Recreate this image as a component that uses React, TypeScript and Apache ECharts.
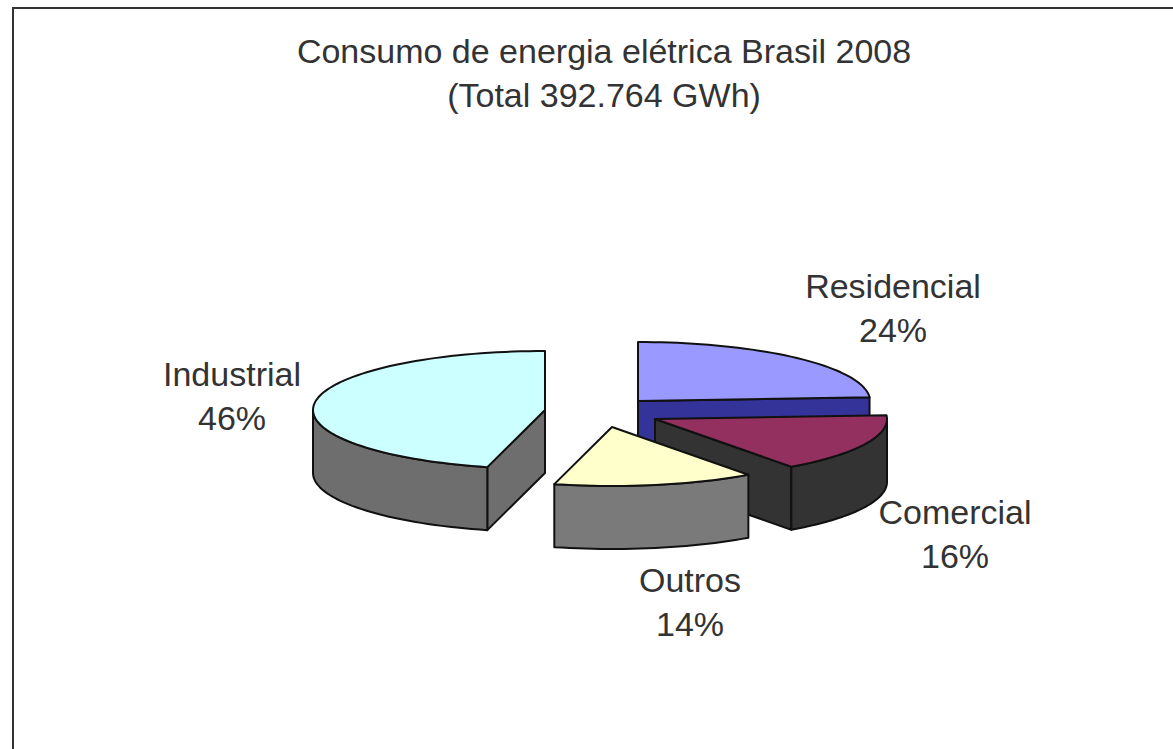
import React, { useEffect, useRef } from "react";
import * as echarts from "echarts";

const categories = ["Residencial", "Comercial", "Outros", "Industrial"];
const shares = [24, 16, 14, 46];
const titleLines = ["Consumo de energia elétrica Brasil 2008", "(Total 392.764 GWh)"];

const topColors = ["#9999FF", "#943060", "#FFFFCC", "#CCFFFF"];
const sideColors = ["#333399", "#333333", "#7A7A7A", "#6E6E6E"];
const centers = [[638, 401], [655, 419], [612, 427], [545, 410]];
const labelAnchors = [[893, 286], [955, 512], [690, 580], [232, 374]];

const RX = 232;
const RY = 59;
const DEPTH = 63;
const LINE_GAP = 44;
const FONT = "'Liberation Sans', Arial, sans-serif";
const TEXT_COLOR = "#333333";
const FONT_SIZE = 34;

const total = shares.reduce((a, b) => a + b, 0);

function arcPoint(c: number[], deg: number, dy = 0): number[] {
  const r = (deg * Math.PI) / 180;
  return [c[0] + RX * Math.sin(r), c[1] - RY * Math.cos(r) + dy];
}

function arcPoints(c: number[], from: number, to: number, dy = 0): number[][] {
  const pts: number[][] = [];
  const n = Math.max(2, Math.ceil(Math.abs(to - from) / 2));
  for (let i = 0; i <= n; i++) pts.push(arcPoint(c, from + ((to - from) * i) / n, dy));
  return pts;
}

function renderItem(params: any, api: any) {
  const i = params.dataIndex;
  let before = 0;
  for (let k = 0; k < i; k++) before += shares[k];
  const a0 = (before / total) * 360;
  const a1 = a0 + (api.value(0) / total) * 360;
  const c = centers[i];
  const stroke = { stroke: "#111111", lineWidth: 2, lineJoin: "round" };
  const side = { ...stroke, fill: sideColors[i] };
  const children: any[] = [];

  const cutFace = (deg: number) => {
    const p = arcPoint(c, deg);
    return {
      type: "polygon",
      shape: { points: [c, p, [p[0], p[1] + DEPTH], [c[0], c[1] + DEPTH]] },
      style: side,
    };
  };
  const startVisible = Math.cos(((a0 - 90) * Math.PI) / 180) < -1e-6;
  const endVisible = Math.cos(((a1 + 90) * Math.PI) / 180) < -1e-6;
  if (startVisible) children.push(cutFace(a0));
  if (endVisible) children.push(cutFace(a1));

  const w0 = Math.max(a0, 90);
  const w1 = Math.min(a1, 270);
  if (w1 > w0) {
    const upper = arcPoints(c, w0, w1);
    const lower = arcPoints(c, w0, w1, DEPTH).reverse();
    children.push({ type: "polygon", shape: { points: [...upper, ...lower] }, style: side });
  }

  children.push({
    type: "polygon",
    shape: { points: [c, ...arcPoints(c, a0, a1)] },
    style: { ...stroke, fill: topColors[i] },
  });

  const anchor = labelAnchors[i];
  children.push({
    type: "text",
    x: anchor[0],
    y: anchor[1],
    style: {
      text: categories[i],
      font: `${FONT_SIZE}px ${FONT}`,
      fill: TEXT_COLOR,
      textAlign: "center",
      textVerticalAlign: "middle",
    },
  });
  children.push({
    type: "text",
    x: anchor[0],
    y: anchor[1] + LINE_GAP,
    style: {
      text: `${api.value(0)}%`,
      font: `${FONT_SIZE}px ${FONT}`,
      fill: TEXT_COLOR,
      textAlign: "center",
      textVerticalAlign: "middle",
    },
  });
  return { type: "group", children };
}

export default function App() {
  const ref = useRef<HTMLDivElement>(null);
  useEffect(() => {
    if (!ref.current) return;
    const chart = echarts.init(ref.current, undefined, { renderer: "svg" });
    chart.setOption({
      animation: false,
      backgroundColor: "#FFFFFF",
      graphic: [
        {
          type: "polyline",
          shape: { points: [[13, 749], [13, 8], [1173, 8]] },
          style: { stroke: "#333333", lineWidth: 2, fill: "none" },
        },
        ...titleLines.map((t, i) => ({
          type: "text",
          x: 604,
          y: 51 + i * 44,
          style: {
            text: t,
            font: `${FONT_SIZE}px ${FONT}`,
            fill: TEXT_COLOR,
            textAlign: "center",
            textVerticalAlign: "middle",
          },
        })),
      ],
      series: [
        {
          type: "custom",
          coordinateSystem: "none",
          silent: true,
          renderItem,
          data: shares.map((v, i) => ({ name: categories[i], value: [v] })),
        },
      ],
    });
    return () => chart.dispose();
  }, []);
  return (
    <div
      ref={ref}
      style={{ position: "fixed", left: 0, top: 0, width: 1173, height: 749 }}
    />
  );
}
